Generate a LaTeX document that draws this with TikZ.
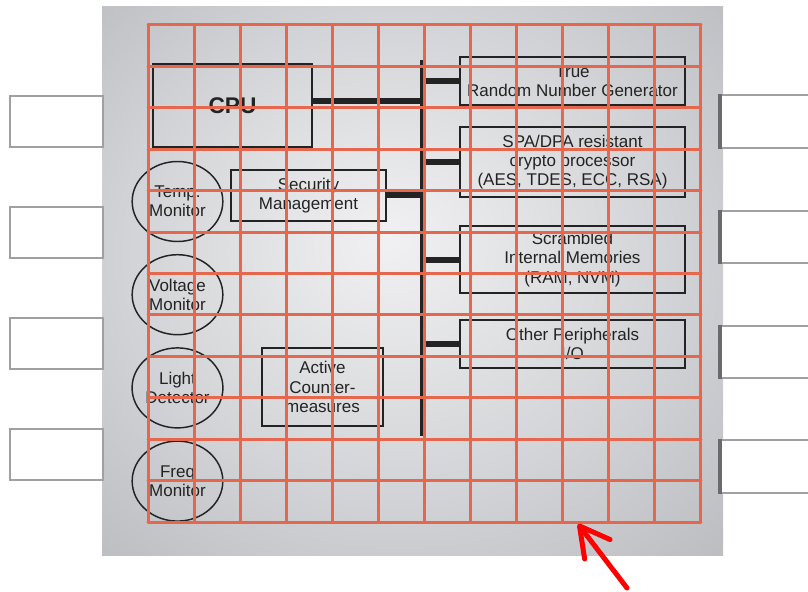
\documentclass[tikz,border=0pt]{standalone}
\usepackage{fontspec}
\setmainfont{Liberation Sans}
\usetikzlibrary{positioning, arrows.meta, shapes.geometric}

\definecolor{chiplight}{RGB}{241,241,243}
\definecolor{chipmid}{RGB}{210,211,214}
\definecolor{chipgray}{RGB}{168,169,173}
\definecolor{gridred}{RGB}{229,104,78}
\definecolor{pingray}{RGB}{160,160,162}
\definecolor{pinedge}{RGB}{105,105,110}
\definecolor{ink}{RGB}{35,35,35}

\pgfdeclareradialshading{chipglow}{\pgfpoint{-2bp}{4bp}}{color(0bp)=(chiplight); color(22bp)=(chipmid); color(50bp)=(chipgray)}

\begin{document}
\begin{tikzpicture}[
  x=0.75pt, y=-0.75pt,
  font=\fontsize{12.75}{14.5}\selectfont,
  block/.style={draw=ink, line width=1.1pt, align=center, inner sep=0pt, text=ink},
  monitor/.style={draw=ink, ellipse, line width=1.1pt, minimum width=68pt, minimum height=60pt, inner sep=0pt, align=center, text=ink},
  pin/.style={draw=pingray, fill=white, line width=1.5pt, inner sep=0pt},
  busline/.style={draw=ink, line width=4.5pt},
  gridline/.style={draw=gridred, line width=2.25pt, line cap=round},
  pointer/.style={draw=red, line width=3.75pt, line cap=round, -{Straight Barb[length=22pt, width=24pt, round]}},
]
  \useasboundingbox (0,0) rectangle (808,592);
  \clip (0,0) rectangle (808,592);

  % Chip body
  \node (chip) [shading=chipglow, minimum width=465.75pt, minimum height=411pt, inner sep=0pt] at (412.5,281) {};

  % Pins
  \foreach \y [count=\k] in {121.5,232.5,343.5,454.5}
    \node (lpin\k) [pin, minimum width=69.75pt, minimum height=38.25pt] at (56.5,\y) {};
  \foreach \y [count=\k] in {121.5,237,352,466.5} {
    \node (rpin\k) [pin, anchor=west, minimum width=90pt, minimum height=39.4pt] at (720,\y) {};
    \draw[pinedge, line width=2.4pt] (rpin\k.north west) -- (rpin\k.south west);
  }

  % Blocks
  \node (cpu) [block, minimum width=119.25pt, minimum height=62.25pt, font=\bfseries\fontsize{17}{20}\selectfont] at (232.5,105.5) {CPU};
  \node (secmgmt) [block, minimum width=116.25pt, minimum height=38.25pt] at (308.5,195.5) {Security\\Management};
  \node (counter) [block, minimum width=90.75pt, minimum height=58.5pt] at (322.5,387) {Active\\Counter-\\measures};
  \node (trng) [block, minimum width=168.75pt, minimum height=36pt] at (572.5,81) {True\\Random Number Generator};
  \node (crypto) [block, minimum width=168.75pt, minimum height=52.5pt] at (572.5,162) {SPA/DPA resistant\\crypto processor\\(AES, TDES, ECC, RSA)};
  \node (memories) [block, minimum width=168.75pt, minimum height=50.25pt] at (572.5,259.5) {Scrambled\\Internal Memories\\(RAM, NVM)};
  \node (periph) [block, minimum width=168.75pt, minimum height=36pt] at (572.5,344) {Other Peripherals\\I/O};

  % Sensors
  \node (temp) [monitor] at (177.5,201.5) {Temp.\\Monitor};
  \node (voltage) [monitor, below=8.8pt of temp] {Voltage\\Monitor};
  \node (light) [monitor, below=8.8pt of voltage] {Light\\Detector};
  \node (freq) [monitor, below=8.8pt of light] {Freq\\Monitor};

  % Internal bus
  \coordinate (bustop) at (422,60);
  \coordinate (busbot) at (422,436);
  \draw[busline, line width=3.75pt] (bustop) -- (busbot);
  \coordinate (cpuport) at ([yshift=3.4pt]cpu.east);
  \draw[busline] (cpuport) -- (cpuport -| bustop);
  \draw[busline] (secmgmt.east) -- (secmgmt.east -| bustop);
  \foreach \n in {trng,crypto,memories,periph}
    \draw[busline] (\n.west) -- (\n.west -| bustop);

  % Grid overlay
  \foreach \i in {0,...,12}
    \draw[gridline] ({148+46.08*\i},25) -- ({148+46.08*\i},522);
  \foreach \j in {0,...,12}
    \draw[gridline] (148,{25+41.42*\j}) -- (701,{25+41.42*\j});

  % Pointer
  \coordinate (tail) at (627,588);
  \coordinate (aim) at (578,524);
  \draw[pointer] (tail) -- (aim);
\end{tikzpicture}
\end{document}
